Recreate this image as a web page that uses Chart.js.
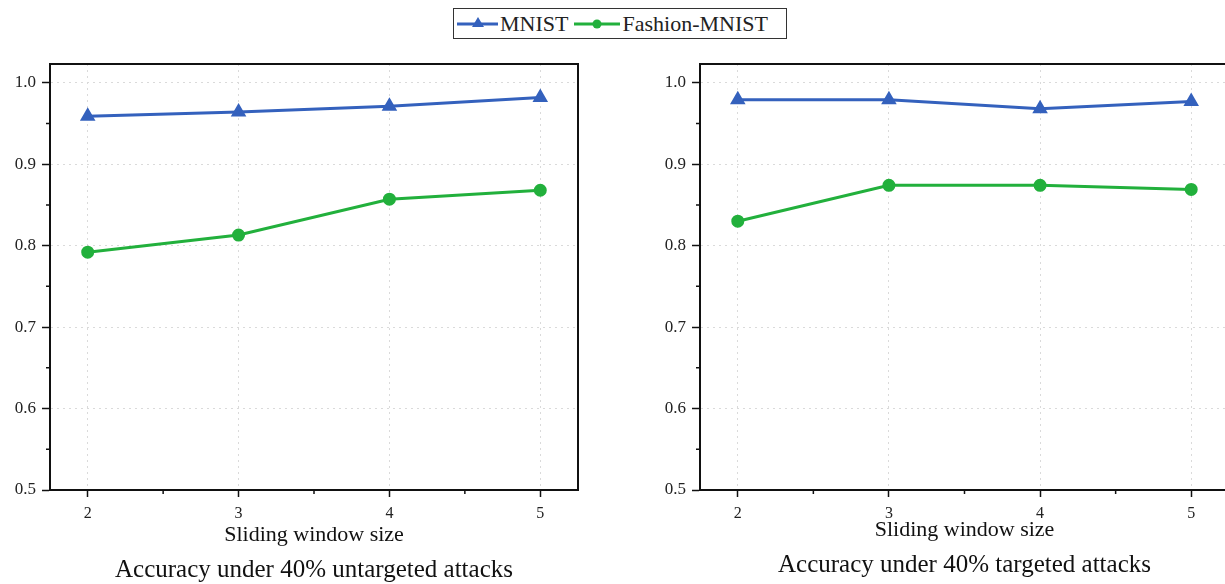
<!DOCTYPE html>
<html>
<head>
<meta charset="utf-8">
<script src="https://cdn.jsdelivr.net/npm/chart.js@4.4.1/dist/chart.umd.min.js"></script>
<style>
  html, body { margin: 0; padding: 0; background: #fff; overflow: hidden; width: 1225px; height: 584px; }
  .box { position: absolute; }
  #legend {
    position: absolute; left: 453px; top: 8px; width: 332px; height: 29px;
    border: 1px solid #333; font-family: "Liberation Serif", serif; font-size: 22px; color: #222;
    display: flex; align-items: center; white-space: nowrap;
  }
  #legend svg { display: block; }
  #legend span { margin-right: 4px; }
</style>
</head>
<body>
<div id="legend">
  <svg width="46" height="20"><line x1="3" y1="10" x2="44" y2="10" stroke="#3461bd" stroke-width="3"/><polygon points="24,3 30,13 18,13" fill="#3461bd"/></svg>
  <span>MNIST</span>
  <svg width="50" height="20"><line x1="2" y1="10" x2="48" y2="10" stroke="#22b03c" stroke-width="3"/><circle cx="25" cy="10" r="4.5" fill="#22b03c"/></svg>
  <span>Fashion-MNIST</span>
</div>
<div class="box" style="left:0px;top:40px;width:600px;height:544px"><canvas id="c1"></canvas></div>
<div class="box" style="left:640px;top:40px;width:611px;height:544px"><canvas id="c2"></canvas></div>
<script>
const windowSizes = [2, 3, 4, 5];
const yTicks = [0.5, 0.6, 0.7, 0.8, 0.9, 1.0];

const mnistUntargeted = [0.959, 0.964, 0.971, 0.982];
const fashionUntargeted = [0.792, 0.813, 0.857, 0.868];

const mnistTargeted = [0.979, 0.979, 0.968, 0.977];
const fashionTargeted = [0.830, 0.874, 0.874, 0.869];

const blue = '#3461bd';
const green = '#22b03c';
const serif = '"Liberation Serif", "Times New Roman", serif';

// frame on top/right and the small minor ticks
const framePlugin = {
    id: 'frame',
    afterDraw(chart) {
        const ctx = chart.ctx;
        const a = chart.chartArea;
        const xs = chart.scales.x, ys = chart.scales.y;
        ctx.save();
        ctx.strokeStyle = '#111';
        ctx.lineWidth = 2;
        ctx.strokeRect(a.left, a.top, a.right - a.left, a.bottom - a.top);
        ctx.lineWidth = 1.5;
        ctx.beginPath();
        [2.5, 3.5, 4.5].forEach(v => {
            const px = xs.getPixelForValue(v);
            ctx.moveTo(px, a.bottom);
            ctx.lineTo(px, a.bottom + 4);
        });
        [0.55, 0.65, 0.75, 0.85, 0.95].forEach(v => {
            const py = ys.getPixelForValue(v);
            ctx.moveTo(a.left, py);
            ctx.lineTo(a.left - 4, py);
        });
        ctx.stroke();
        ctx.restore();
    }
};

function makeChart(id, mn, fm, caption, yW, xH, titlePad, capPad) {
    const toPts = arr => arr.map((v, i) => ({ x: windowSizes[i], y: v }));
    return new Chart(document.getElementById(id), {
        type: 'line',
        data: {
            datasets: [{
                label: 'MNIST',
                data: toPts(mn),
                borderColor: blue,
                backgroundColor: blue,
                borderWidth: 3,
                pointStyle: 'triangle',
                pointRadius: 6,
                pointHoverRadius: 6
            }, {
                label: 'Fashion-MNIST',
                data: toPts(fm),
                borderColor: green,
                backgroundColor: green,
                borderWidth: 3,
                pointStyle: 'circle',
                pointRadius: 5,
                pointHoverRadius: 5
            }]
        },
        options: {
            responsive: true,
            maintainAspectRatio: false,
            animation: false,
            layout: { padding: { top: 24, right: 22, left: 0, bottom: 0 } },
            plugins: {
                legend: { display: false },
                tooltip: { enabled: false },
                title: {
                    display: true,
                    position: 'bottom',
                    fullSize: false,
                    text: caption,
                    color: '#111',
                    font: { family: serif, size: 25, weight: 'normal', lineHeight: 1.056 },
                    padding: { top: 0, bottom: capPad }
                }
            },
            scales: {
                x: {
                    type: 'linear',
                    min: 1.75,
                    max: 5.25,
                    afterBuildTicks: s => { s.ticks = windowSizes.map(v => ({ value: v })); },
                    afterFit: s => { s.height = xH; },
                    ticks: {
                        color: '#222',
                        font: { family: serif, size: 16 },
                        padding: 7,
                        maxRotation: 0
                    },
                    grid: {
                        color: '#dadada',
                        lineWidth: 1,
                        tickColor: '#111',
                        tickLength: 7,
                        tickWidth: 1.5
                    },
                    border: { display: true, color: '#111', width: 2, dash: [2, 4] },
                    title: {
                        display: true,
                        text: 'Sliding window size',
                        color: '#111',
                        font: { family: serif, size: 22, lineHeight: 1.1 },
                        padding: { top: 0, bottom: titlePad }
                    }
                },
                y: {
                    min: 0.5,
                    max: 1.023,
                    afterBuildTicks: s => { s.ticks = yTicks.map(v => ({ value: v })); },
                    afterFit: s => { s.width = yW; },
                    ticks: {
                        color: '#222',
                        font: { family: serif, size: 17 },
                        padding: 6,
                        callback: v => v.toFixed(1)
                    },
                    grid: {
                        color: '#dadada',
                        lineWidth: 1,
                        tickColor: '#111',
                        tickLength: 8,
                        tickWidth: 1.5
                    },
                    border: { display: true, color: '#111', width: 2, dash: [2, 4] }
                }
            }
        },
        plugins: [framePlugin]
    });
}

// caption box: 25*1.056 = 26.4 px + bottom padding; x axis fills the rest down to y=450
makeChart('c1', mnistUntargeted, fashionUntargeted, 'Accuracy under 40% untargeted attacks', 50, 67.6, 10.5, 0);
makeChart('c2', mnistTargeted, fashionTargeted, 'Accuracy under 40% targeted attacks', 60, 62.6, 10.5, 5);
</script>
</body>
</html>
